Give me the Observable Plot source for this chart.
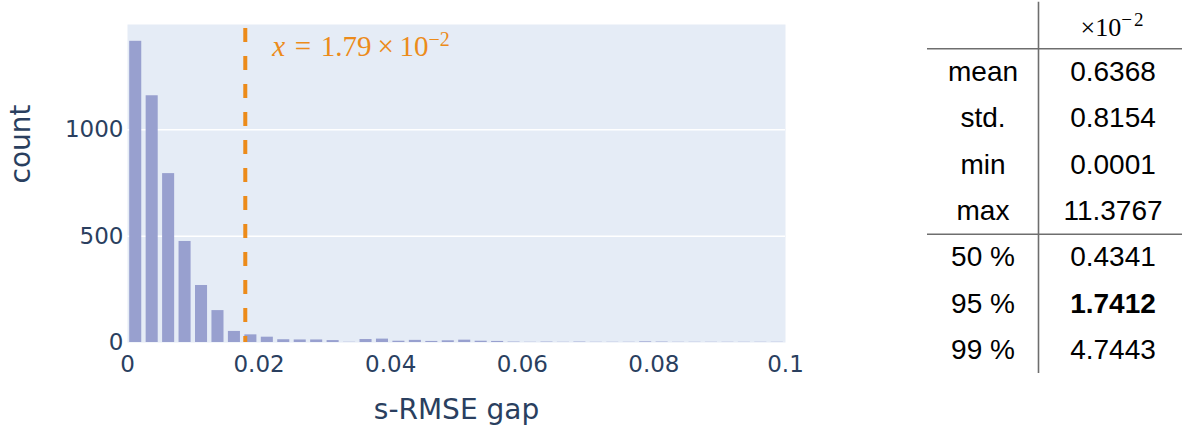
<!DOCTYPE html>
<html><head><meta charset="utf-8">
<script src="https://cdn.jsdelivr.net/npm/d3@7"></script>
<script src="https://cdn.jsdelivr.net/npm/@observablehq/plot@0.6"></script>
<style>
html,body{margin:0;padding:0;background:#fff;}
#wrap{position:relative;width:1182px;height:428px;overflow:hidden;background:#fff;}
#hist{position:absolute;left:0;top:0;width:900px;height:428px;}
#table{position:absolute;left:900px;top:0;width:282px;height:428px;}
</style></head><body>
<div id="wrap"><div id="hist"></div><div id="table"></div></div>
<script>
// ---- histogram data ----
const binWidth = 0.0025;
const counts = [1416, 1160, 794, 475, 268, 150, 52, 36, 25, 13,
                12, 12, 9, 1, 14, 16, 6, 10, 5, 8,
                11, 6, 5, 2, 1, 2, 1, 2, 1, 1,
                1, 3, 2, 1, 1, 1, 1, 1, 1, 1];
const xTicks = [0, 0.02, 0.04, 0.06, 0.08, 0.1];
const xTickLabels = ["0", "0.02", "0.04", "0.06", "0.08", "0.1"];
const yTicks = [0, 500, 1000];
const yTickLabels = ["0", "500", "1000"];
const markerX = 0.0179;
const markerMantissa = "1.79";
const markerExponent = "\u22122";
const xTitle = "s-RMSE gap";
const yTitle = "count";

// ---- table data ----
const rowLabels = ["mean", "std.", "min", "max", "50 %", "95 %", "99 %"];
const rowValues = [0.6368, 0.8154, 0.0001, 11.3767, 0.4341, 1.7412, 4.7443];
const boldRow = "95 %";
const headerBase = "\u00d710";
const headerExponent = "\u22122";

const bins = counts.map((c, i) => ({x1: i * binWidth, x2: (i + 1) * binWidth, count: c}));
const orange = "#ec8b1a";
const ink = "#2a3f5f";
const annotation = `x = ${markerMantissa} \u00d7 10${markerExponent}`;

const hist = Plot.plot({
  width: 900, height: 428,
  marginLeft: 127, marginRight: 115, marginTop: 24, marginBottom: 86,
  style: {fontFamily: "DejaVu Sans", fontSize: "23px", color: ink, background: "transparent", overflow: "visible"},
  x: {domain: [0, 0.1], ticks: xTicks, tickFormat: d => xTickLabels[xTicks.indexOf(d)], tickSize: 0, tickPadding: 13, label: null},
  y: {domain: [0, 1495], ticks: yTicks, tickFormat: d => yTickLabels[yTicks.indexOf(d)], tickSize: 0, tickPadding: 4, label: null},
  marks: [
    Plot.frame({fill: "#e5ecf6", stroke: "none"}),
    Plot.ruleY(yTicks.filter(d => d > 0), {y: d => d, stroke: "white", strokeWidth: 1.5}),
    Plot.rectY(bins, {x1: "x1", x2: "x2", y: "count", fill: "#98a0cf", insetLeft: 2.2, insetRight: 2.2}),
    Plot.ruleX([markerX], {x: d => d, stroke: orange, strokeWidth: 4, strokeDasharray: "14,14", strokeDashoffset: 24}),
    Plot.text([markerX], {x: d => d, frameAnchor: "top", text: () => annotation,
      fill: orange, fontFamily: "Liberation Serif", fontSize: 29, textAnchor: "start", lineAnchor: "bottom", dx: 27, dy: 31}),
    Plot.text([xTitle], {text: d => d, frameAnchor: "bottom", dy: 68, fontSize: 28, lineAnchor: "middle", fill: ink}),
    Plot.text([yTitle], {text: d => d, frameAnchor: "left", dx: -106, rotate: -90, fontSize: 28, fill: ink})
  ]
});
document.getElementById("hist").appendChild(hist);

// rich text for the annotation
d3.select(hist).selectAll("text").filter(function () {
  return this.textContent === annotation;
}).each(function () {
  const t = d3.select(this);
  t.text("");
  t.append("tspan").attr("font-style", "italic").text("x");
  t.append("tspan").text(`\u2004=\u2004${markerMantissa}\u2009\u00d7\u200910`);
  t.append("tspan").attr("font-size", "20px").attr("dy", "-10").text(markerExponent);
});

// ---- table, drawn with Plot (x in table units: label column 0..111, value column 111..259) ----
const labelCol = 55.5, valueCol = 185.5, divider = 111, tableRight = 259;
const rows = rowLabels.map((label, i) => ({label, value: rowValues[i].toFixed(4), row: i + 1, bold: label === boldRow}));
const header = [{text: headerBase + headerExponent, row: 0}];

const table = Plot.plot({
  width: 282, height: 428,
  marginLeft: 0, marginRight: 0, marginTop: 0, marginBottom: 0,
  style: {fontFamily: "Liberation Sans", fontSize: "28px", color: "black", background: "transparent", overflow: "visible"},
  x: {type: "linear", domain: [0, tableRight], range: [27, 286], axis: null},
  y: {type: "linear", domain: [0, 7], range: [25, 349.8], axis: null},
  marks: [
    Plot.ruleX([divider], {x: d => d, y1: () => -0.5, y2: () => 7.5, stroke: "#6e6e6e", strokeWidth: 1.6}),
    Plot.ruleY([0.5, 4.5], {y: d => d, x1: () => 0, x2: () => tableRight, stroke: "#6e6e6e", strokeWidth: 1.6}),
    Plot.text(rows, {x: () => labelCol, y: "row", text: "label", fill: "black", fontSize: 28}),
    Plot.text(rows.filter(d => !d.bold), {x: () => valueCol, y: "row", text: "value", fill: "black", fontSize: 28}),
    Plot.text(rows.filter(d => d.bold), {x: () => valueCol, y: "row", text: "value", fill: "black", fontSize: 28, fontWeight: "bold"}),
    Plot.text(header, {x: () => valueCol, y: "row", text: "text", fill: "black", fontFamily: "Liberation Serif", fontSize: 26, dy: 2})
  ]
});
document.getElementById("table").appendChild(table);

d3.select(table).selectAll("text").filter(function () {
  return this.textContent === headerBase + headerExponent;
}).each(function () {
  const t = d3.select(this);
  t.text("");
  t.append("tspan").text(headerBase);
  t.append("tspan").attr("font-size", "19px").attr("dy", "-10").attr("letter-spacing", "2px").text(headerExponent);
});
</script>
</body></html>
